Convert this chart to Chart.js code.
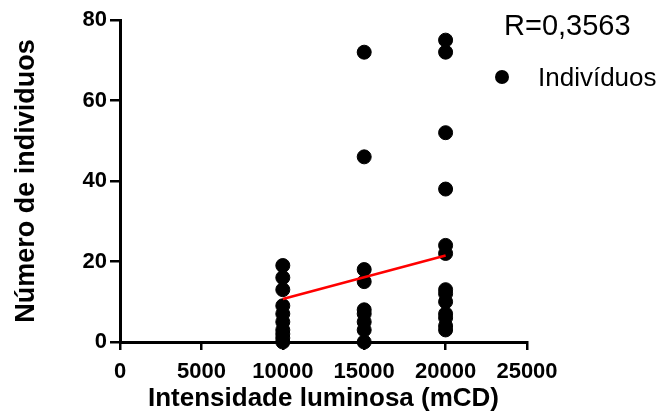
<!DOCTYPE html>
<html>
<head>
<meta charset="utf-8">
<script src="https://cdn.jsdelivr.net/npm/chart.js@4.4.1/dist/chart.umd.min.js"></script>
<style>
  html, body { margin: 0; padding: 0; background: #fff; }
  #wrap { width: 659px; height: 417px; position: relative; }
</style>
</head>
<body>
<div id="wrap"><canvas id="chart" width="659" height="417"></canvas></div>
<script>
// valores
const xTicks = [0, 5000, 10000, 15000, 20000, 25000];
const yTicks = [0, 20, 40, 60, 80];

const grupo10000 = [19, 16, 13, 9, 7, 5, 3, 2, 1, 0];
const grupo15000 = [72, 46, 18, 15, 8, 7, 5, 3, 0];
const grupo20000 = [75, 72, 52, 38, 24, 22, 13, 12, 10, 7, 6, 4, 3];

const retaX = [10000, 20000];
const retaY = [10.7, 21.5];

const rTexto = 'R=0,3563';
const serieNome = 'Indivíduos';

const pontos = [];
grupo10000.forEach(v => pontos.push({ x: 10000, y: v }));
grupo15000.forEach(v => pontos.push({ x: 15000, y: v }));
grupo20000.forEach(v => pontos.push({ x: 20000, y: v }));

const FONT = '"Liberation Sans", Arial, sans-serif';

// legenda no canto superior direito
const legendaPlugin = {
  id: 'legenda',
  afterDraw(chart) {
    const ctx = chart.ctx;
    ctx.save();
    ctx.fillStyle = '#000';
    ctx.textBaseline = 'alphabetic';
    ctx.font = '29px ' + FONT;
    ctx.fillText(rTexto, 504, 35);
    ctx.beginPath();
    ctx.arc(502, 77, 7, 0, Math.PI * 2);
    ctx.fill();
    ctx.font = '26px ' + FONT;
    ctx.fillText(serieNome, 538, 86);
    ctx.restore();
  }
};

new Chart(document.getElementById('chart'), {
  type: 'scatter',
  data: {
    datasets: [
      {
        type: 'line',
        label: 'reta',
        data: retaX.map((x, i) => ({ x, y: retaY[i] })),
        borderColor: '#ff0000',
        borderWidth: 2.5,
        pointRadius: 0,
        fill: false,
        order: 0,
      },
      {
        label: serieNome,
        data: pontos,
        backgroundColor: '#000',
        borderColor: '#000',
        pointRadius: 7,
        pointHoverRadius: 7,
        clip: false,
        order: 1,
      },
    ],
  },
  options: {
    responsive: false,
    animation: false,
    layout: { padding: { left: 0, right: 132, top: 20, bottom: 0 } },
    plugins: { legend: { display: false }, tooltip: { enabled: false } },
    scales: {
      x: {
        type: 'linear',
        min: 0,
        max: 25000,
        afterBuildTicks: s => { s.ticks = xTicks.map(v => ({ value: v })); },
        afterFit: s => { s.height = 75; },
        grid: { drawOnChartArea: false, drawTicks: true, tickLength: 8, color: '#000', lineWidth: 2.5 },
        border: { display: true, color: '#000', width: 3 },
        ticks: {
          color: '#000',
          padding: 9,
          maxRotation: 0,
          font: { family: FONT, size: 22, weight: 'bold' },
          callback: v => String(v),
        },
        title: {
          display: true,
          text: 'Intensidade luminosa (mCD)',
          color: '#000',
          font: { family: FONT, size: 26, weight: 'bold' },
          padding: { top: 0, bottom: 3 },
        },
      },
      y: {
        type: 'linear',
        min: 0,
        max: 80,
        afterBuildTicks: s => { s.ticks = yTicks.map(v => ({ value: v })); },
        afterFit: s => { s.width = 120; },
        grid: { drawOnChartArea: false, drawTicks: true, tickLength: 10, color: '#000', lineWidth: 2.5 },
        border: { display: true, color: '#000', width: 3 },
        ticks: {
          color: '#000',
          padding: 3,
          font: { family: FONT, size: 22, weight: 'bold' },
          callback: v => String(v),
        },
        title: {
          display: true,
          text: 'Número de individuos',
          color: '#000',
          font: { family: FONT, size: 27, weight: 'bold' },
          padding: { top: 10, bottom: 0 },
        },
      },
    },
  },
  plugins: [legendaPlugin],
});
</script>
</body>
</html>
